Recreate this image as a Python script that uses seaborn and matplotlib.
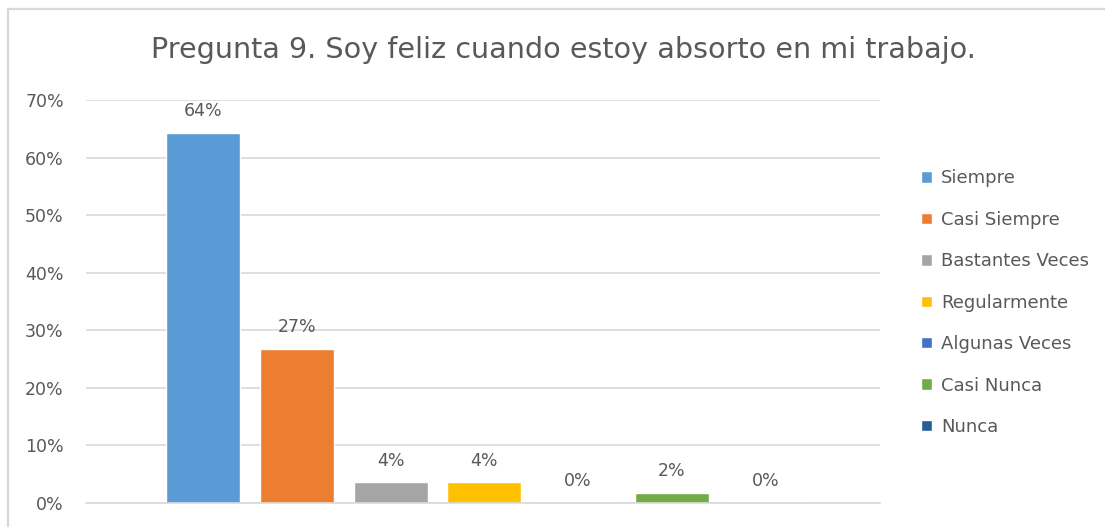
import matplotlib
matplotlib.use("Agg")
import matplotlib.pyplot as plt
from matplotlib.lines import Line2D
from matplotlib.ticker import PercentFormatter
import pandas as pd
import seaborn as sns

# Survey answers for question 9 (share of respondents)
categorias = ["Siempre", "Casi Siempre", "Bastantes Veces", "Regularmente",
              "Algunas Veces", "Casi Nunca", "Nunca"]
porcentajes = [0.643, 0.268, 0.036, 0.036, 0.0, 0.018, 0.0]
colores = ["#5B9BD5", "#ED7D31", "#A5A5A5", "#FFC000",
           "#4472C4", "#70AD47", "#255E91"]
titulo = "Pregunta 9. Soy feliz cuando estoy absorto en mi trabajo."

df = pd.DataFrame({"categoria": categorias, "porcentaje": porcentajes})

sns.set_style("white")
plt.rcParams["font.family"] = ["DejaVu Sans"]
texto = "#595959"
rejilla = "#D9D9D9"

W, H = 1105, 527
fig = plt.figure(figsize=(W / 100, H / 100), dpi=100)
ax = fig.add_axes([86 / W, 1 - 503 / H, (880 - 86) / W, (503 - 100) / H])

sns.barplot(data=df, x="categoria", y="porcentaje", hue="categoria",
            palette=colores, order=categorias, hue_order=categorias,
            width=0.79, dodge=False, legend=False, saturation=1, ax=ax)

ax.set_ylim(0, 0.70)
ax.set_xlim(-1.25, 6 + 1.22)
ax.yaxis.set_major_formatter(PercentFormatter(1.0, decimals=0))
ax.set_yticks([i / 10 for i in range(8)])
ax.set_xticks([])
ax.set_xlabel("")
ax.set_ylabel("")
ax.tick_params(axis="y", length=0, labelsize=12.5, labelcolor=texto, pad=16)
ax.grid(axis="y", color=rejilla, linewidth=1.2)
ax.set_axisbelow(True)
for lado in ["top", "right", "left"]:
    ax.spines[lado].set_visible(False)
ax.spines["bottom"].set_color(rejilla)
ax.spines["bottom"].set_linewidth(1.2)

# Value labels above every bar
for cont, valor in zip(ax.containers, porcentajes):
    barra = cont.patches[0]
    ax.annotate(f"{valor:.0%}", (barra.get_x() + barra.get_width() / 2, valor),
                xytext=(0, 9), textcoords="offset points",
                ha="center", va="bottom", fontsize=12.5, color=texto)

# Legend on the right
handles = [cont.patches[0] for cont in ax.containers]
fig.legend(handles, categorias, loc="upper left",
           bbox_to_anchor=(914 / W, 1 - 162 / H), frameon=False,
           fontsize=13, labelcolor=texto, handlelength=0.6,
           handleheight=0.6, handletextpad=0.5, labelspacing=1.3,
           borderaxespad=0)

fig.text(563 / W, 1 - 50 / H, titulo, ha="center", va="center",
         fontsize=20.6, color=texto)

# Chart frame edges
fig.add_artist(Line2D([8 / W, 1], [1 - 9 / H, 1 - 9 / H], color=rejilla,
                      linewidth=1.6, transform=fig.transFigure))
fig.add_artist(Line2D([8 / W, 8 / W], [0, 1 - 9 / H], color=rejilla,
                      linewidth=1.6, transform=fig.transFigure))

fig.savefig("out.png", dpi=100, facecolor="white")
